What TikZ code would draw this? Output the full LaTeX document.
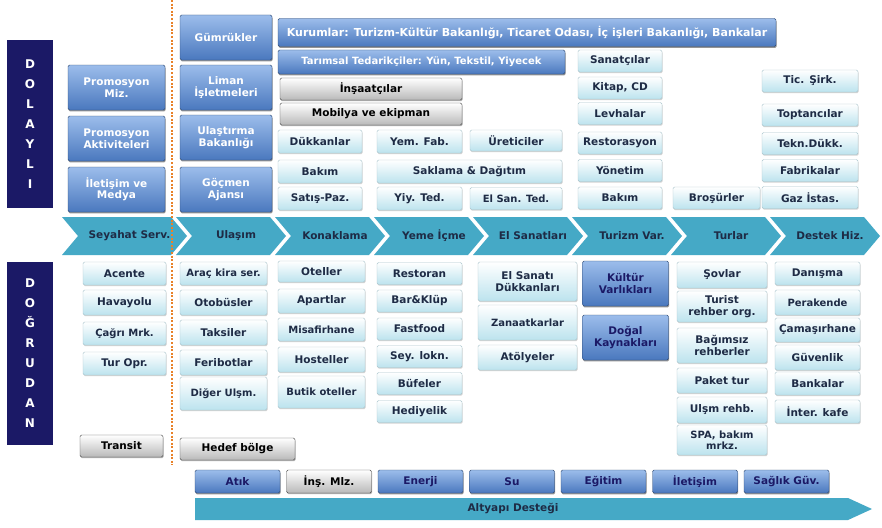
\documentclass[tikz,border=0pt]{standalone}
\usepackage{fontspec}
\setmainfont{DejaVu Sans}
\usetikzlibrary{shadows}
\definecolor{boxblue}{HTML}{4A78BE}
\definecolor{boxbluelight}{HTML}{9CBDEB}
\definecolor{boxcyan}{HTML}{BCE3EE}
\definecolor{navy}{HTML}{1B1966}
\definecolor{chevteal}{HTML}{45A9C6}
\definecolor{darktext}{HTML}{1E2B45}
\definecolor{dotorange}{HTML}{E8822A}
\tikzset{
  basebox/.style = {
    rounded corners=1.5pt, align=center, inner sep=1pt,
    font=\fontsize{10.5}{11.5}\selectfont\bfseries
  },
  bluebox/.style = {
    basebox, top color=boxbluelight, bottom color=boxblue,
    draw=boxblue!60!black, text=white,
    drop shadow={shadow xshift=0.6pt, shadow yshift=-1.4pt, fill=black!70, opacity=0.6}
  },
  deepbox/.style = {bluebox, text=navy},
  cyanbox/.style = {
    basebox, top color=white, bottom color=boxcyan,
    draw=boxcyan!70!gray, text=darktext,
    drop shadow={shadow xshift=0.6pt, shadow yshift=-1.2pt, fill=gray!70, opacity=0.5}
  },
  graybox/.style = {
    basebox, top color=white, bottom color=gray!55,
    draw=gray!60!black, text=black,
    drop shadow={shadow xshift=0.6pt, shadow yshift=-1.2pt, fill=black!60, opacity=0.5}
  },
  navybox/.style = {
    fill=navy, text=white, align=center, inner sep=0pt,
    font=\fontsize{12}{20}\selectfont\bfseries
  },
  chevlabel/.style = {font=\fontsize{10.5}{11.5}\selectfont\bfseries, text=darktext},
  dotline/.style = {dotorange, line width=2.2pt, dash pattern=on 2pt off 1.6pt},
  reg/.style = {},
  smalltext/.style = {font=\fontsize{10}{11}\selectfont\bfseries}
}

\begin{document}
\begin{tikzpicture}[x=1pt,y=-1pt]
  \useasboundingbox (0,0) rectangle (882,527);
  \fill[white] (0,0) rectangle (882,527);
  %
  % side labels
  \node[navybox, minimum width=46, minimum height=168] (dolayli) at (30,124) {D\\O\\L\\A\\Y\\L\\I};
  \node[navybox, minimum width=46, minimum height=183] (dogrudan) at (30,353.5) {D\\O\\Ğ\\R\\U\\D\\A\\N};
  %
  % indirect part
  \foreach \y/\t [count=\k] in {87.5/{Promosyon\\Miz.}, 138.5/{Promosyon\\Aktiviteleri}, 189.5/{İletişim ve\\Medya}}
    \node[bluebox, minimum width=97, minimum height=45] (promo\k) at (116.5,\y) {\t};
  \foreach \y/\t [count=\k] in {37.5/Gümrükler, 87.5/{Liman\\İşletmeleri}, 137.5/{Ulaştırma\\Bakanlığı}, 189.5/{Göçmen\\Ajansı}}
    \node[bluebox, minimum width=92, minimum height=45] (gov\k) at (226,\y) {\t};
  \node[bluebox, font=\fontsize{11}{12}\selectfont\bfseries, minimum width=498, minimum height=28] (kurum) at (527,32.5)
    {Kurumlar: Turizm-Kültür Bakanlığı, Ticaret Odası, İç işleri Bakanlığı, Bankalar};
  \node[bluebox, font=\fontsize{10}{11}\selectfont\bfseries, minimum width=287, minimum height=24] (tarim) at (421.5,62)
    {Tarımsal Tedarikçiler: Yün, Tekstil, Yiyecek};
  \node[graybox, minimum width=182, minimum height=22] (insaat) at (371,89) {İnşaatçılar};
  \node[graybox, minimum width=182, minimum height=22] (mobilya) at (371,114) {Mobilya ve ekipman};
  %
  \foreach \y/\t [count=\k] in {141.5/Dükkanlar, 171.5/Bakım, 198.5/Satış-Paz.}
    \node[cyanbox, minimum width=84, minimum height=23] (konk\k) at (320,\y) {\t};
  \node[cyanbox, minimum width=85, minimum height=23] (yemfab) at (419.5,141.5) {Yem. Fab.};
  \node[cyanbox, minimum width=185, minimum height=23] (saklama) at (469.5,171.5) {Saklama \& Dağıtım};
  \node[cyanbox, minimum width=85, minimum height=23] (yiyted) at (419.5,198.5) {Yiy. Ted.};
  \node[cyanbox, minimum width=92, minimum height=21] (uretici) at (516,140.5) {Üreticiler};
  \node[cyanbox, smalltext, minimum width=92, minimum height=22] (elsanted) at (516,198.5) {El San. Ted.};
  \foreach \y/\t [count=\k] in {61/Sanatçılar, 88/{Kitap, CD}, 113.5/Levhalar, 143/Restorasyon, 170.5/Yönetim, 198/Bakım}
    \node[cyanbox, minimum width=84, minimum height=22] (turv\k) at (620,\y) {\t};
  \node[cyanbox, minimum width=87, minimum height=22] (brosur) at (716.5,198) {Broşürler};
  \foreach \y/\t [count=\k] in {81/Tic. Şirk., 115/Toptancılar, 143.5/Tekn.Dükk., 170.5/Fabrikalar, 197.5/Gaz İstas.}
    \node[cyanbox, minimum width=96, minimum height=22] (destek\k) at (810,\y) {\t};
  %
  % value chain
  \foreach \s/\e/\t [count=\k] in {62/187/Seyahat Serv., 176/286/Ulaşım, 275/385/Konaklama, 374/484/Yeme İçme,
      473/583/El Sanatları, 572/682/Turizm Var., 671/781/Turlar, 770/880/Destek Hiz.} {
    \fill[chevteal] (\s,217) -- (\e-16,217) -- (\e,236) -- (\e-16,255) -- (\s,255) -- (\s+16,236) -- cycle;
    \node[chevlabel] (chev\k) at ({(\s+\e)/2+5},236) {\t};
  }
  %
  % direct part
  \foreach \y/\h/\s/\t [count=\k] in {273.5/23/reg/Acente, 302.5/25/reg/Havayolu, 333.5/23/smalltext/Çağrı Mrk., 363.5/23/reg/Tur Opr.}
    \node[cyanbox, \s, minimum width=83, minimum height=\h] (seyd\k) at (124.5,\y) {\t};
  \foreach \y/\h/\s/\t [count=\k] in {273.5/23/smalltext/Araç kira ser., 302.5/25/reg/Otobüsler, 332.5/25/reg/Taksiler,
      362.5/25/reg/Feribotlar, 393.5/33/smalltext/Diğer Ulşm.}
    \node[cyanbox, \s, minimum width=87, minimum height=\h] (ulsd\k) at (223.5,\y) {\t};
  \foreach \y/\h/\s/\t [count=\k] in {271.5/21/reg/Oteller, 301/24/reg/Apartlar, 329.5/23/smalltext/Misafirhane,
      359.5/25/reg/Hosteller, 392/32/smalltext/Butik oteller}
    \node[cyanbox, \s, minimum width=87, minimum height=\h] (konkd\k) at (321.5,\y) {\t};
  \foreach \y/\t [count=\k] in {273.5/Restoran, 301/Bar\&Klüp, 329/Fastfood, 356.5/Sey. lokn., 383.5/Büfeler, 411.5/Hediyelik}
    \node[cyanbox, minimum width=85, minimum height=22] (yemed\k) at (419.5,\y) {\t};
  \foreach \y/\h/\s/\t [count=\k] in {281.5/39/reg/{El Sanatı\\Dükkanları}, 322.5/35/smalltext/Zanaatkarlar, 357.5/25/reg/Atölyeler}
    \node[cyanbox, \s, minimum width=99, minimum height=\h] (elsd\k) at (527.5,\y) {\t};
  \foreach \y/\t [count=\k] in {283.5/{Kültür\\Varlıkları}, 337.5/{Doğal\\Kaynakları}}
    \node[deepbox, minimum width=86, minimum height=45] (varlik\k) at (625.5,\y) {\t};
  \foreach \y/\h/\s/\t [count=\k] in {275/26/reg/Şovlar, 306.5/31/reg/{Turist\\rehber org.}, 345.5/35/reg/{Bağımsız\\rehberler},
      380.5/25/reg/Paket tur, 410/26/reg/Ulşm rehb., 440/30/smalltext/{SPA, bakım\\mrkz.}}
    \node[cyanbox, \s, minimum width=90, minimum height=\h] (turd\k) at (722,\y) {\t};
  \foreach \y/\h/\s/\t [count=\k] in {273.5/23/reg/Danışma, 302.5/25/smalltext/Perakende, 330/24/reg/Çamaşırhane,
      357.5/25/reg/Güvenlik, 383.5/23/reg/Bankalar, 411.5/23/reg/İnter. kafe}
    \node[cyanbox, \s, minimum width=85, minimum height=\h] (destd\k) at (817.5,\y) {\t};
  %
  \node[graybox, minimum width=83, minimum height=22] (transit) at (121.5,446) {Transit};
  \node[graybox, minimum width=115, minimum height=22] (hedef) at (237.5,449) {Hedef bölge};
  %
  % infrastructure
  \foreach \s/\t [count=\k] in {deepbox/Atık, graybox/{İnş. Mlz.}, deepbox/Enerji, deepbox/Su, deepbox/Eğitim,
      deepbox/İletişim, deepbox/Sağlık Güv.}
    \node[\s, minimum width=85, minimum height=23] (altyapi\k) at ({237.5+91.5*(\k-1)},481.5) {\t};
  \fill[chevteal] (195,498) -- (848,498) -- (872,509) -- (848,520) -- (195,520) -- cycle;
  \node[chevlabel] (altyapi) at (513,509) {Altyapı Desteği};
  %
  \coordinate (dtop) at (172,0);
  \coordinate (dbot) at (172,465);
  \draw[dotline] (dtop) -- (dbot);
\end{tikzpicture}
\end{document}
